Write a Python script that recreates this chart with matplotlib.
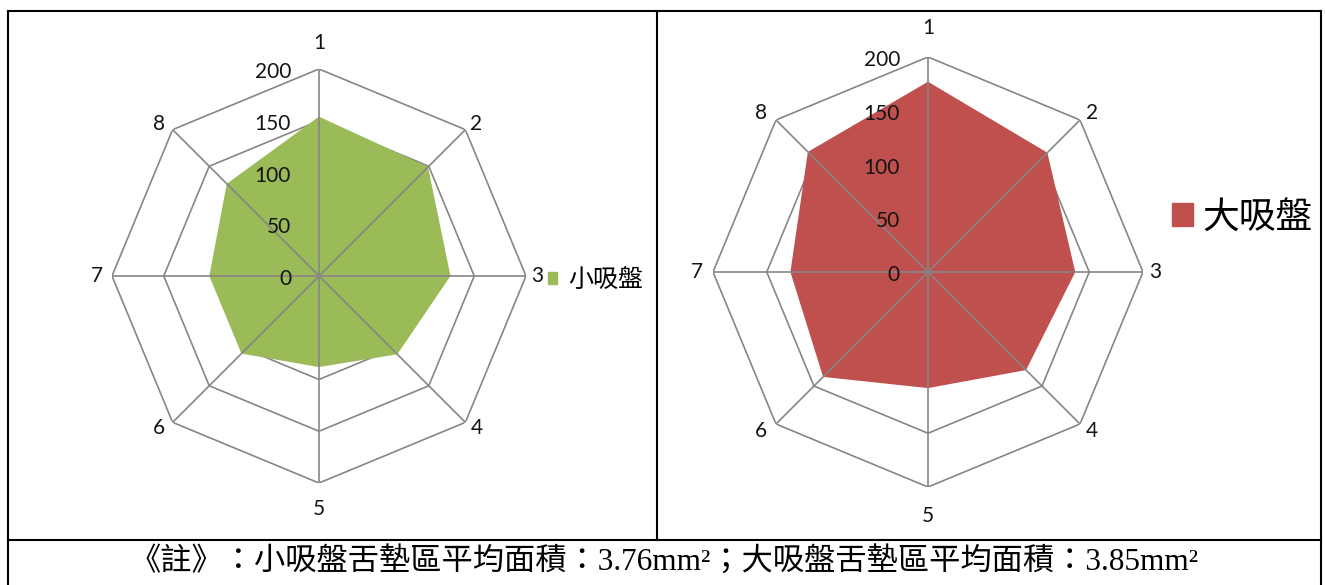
import matplotlib
matplotlib.use("Agg")
import matplotlib.pyplot as plt
import numpy as np
from matplotlib.patches import Patch

categories = ["1", "2", "3", "4", "5", "6", "7", "8"]
small_cup = [154, 149, 127, 107, 88, 106, 106, 126]
large_cup = [177, 157, 137, 129, 108, 138, 128, 158]
rings = [50, 100, 150, 200]
ring_labels = ["0", "50", "100", "150", "200"]
note = "《註》：小吸盤舌墊區平均面積：3.76mm²；大吸盤舌墊區平均面積：3.85mm²"

W, H = 1325, 585
fig = plt.figure(figsize=(W / 100, H / 100), dpi=100)

# page-sized axes in pixel units for the table frame
bg = fig.add_axes([0, 0, 1, 1])
bg.set_xlim(0, W)
bg.set_ylim(H, 0)
bg.axis("off")
frame = dict(color="black", lw=1.5, solid_capstyle="projecting")
bg.plot([8, 1321], [11, 11], **frame)
bg.plot([8, 8], [11, 590], **frame)
bg.plot([1321, 1321], [11, 590], **frame)
bg.plot([657, 657], [11, 540], **frame)
bg.plot([8, 1321], [540, 540], **frame)
bg.text(664, 563, note, ha="center", va="center", fontsize=22.5,
        family=["Liberation Serif", "Noto Sans CJK TC"], color="black")

GRID = "#868686"
TXT = "#141414"
theta = np.arange(len(categories)) * 2 * np.pi / len(categories)
closed = np.append(theta, theta[0])

# (dx, dy) pixel offsets of the category labels from the outer vertices
label_off = [(0, 26), (11, 6), (11, 0), (11, -6), (0, -26), (-14, -6), (-15, 0), (-14, 6)]


def radar(rect, values, color, off_scale):
    ax = fig.add_axes(rect, projection="polar")
    ax.set_theta_zero_location("N")
    ax.set_theta_direction(-1)
    ax.set_ylim(0, 200)
    ax.set_xticks([])
    ax.set_yticks([])
    ax.grid(False)
    ax.spines["polar"].set_visible(False)
    ax.patch.set_alpha(0)

    for r in rings:
        ax.plot(closed, [r] * len(closed), color=GRID, lw=1.2, zorder=1)
    ax.fill(closed, np.append(values, values[0]), color=color, lw=0, zorder=2)
    for t in theta:
        ax.plot([t, t], [0, 200], color=GRID, lw=1.2, zorder=3)

    for lab, r in zip(ring_labels, [0] + rings):
        ax.annotate(lab, xy=(0, r), xytext=(-28, -3), textcoords="offset pixels",
                    ha="right", va="center", fontsize=15, family="Lato",
                    color=TXT, zorder=4)
    for t, lab, (dx, dy) in zip(theta, categories, label_off):
        ax.annotate(lab, xy=(t, 200), xytext=(dx * off_scale, dy * off_scale),
                    textcoords="offset pixels", ha="center", va="center",
                    fontsize=15, family="Lato", color=TXT, zorder=4)
    return ax


def rect_for(cx, cy, rad):
    return [(cx - rad) / W, (H - cy - rad) / H, 2 * rad / W, 2 * rad / H]


left = radar(rect_for(319, 276, 207), small_cup, "#9BBB59", 1.0)
right = radar(rect_for(928, 272, 215), large_cup, "#C0504D", 1.1)

left.legend(handles=[Patch(color="#9BBB59", label="小吸盤")], loc="center left",
            bbox_to_anchor=(548 / W, 1 - 280 / H), bbox_transform=fig.transFigure,
            frameon=False, borderpad=0, borderaxespad=0, handlelength=0.36,
            handleheight=0.36, handletextpad=0.45,
            prop={"family": ["Noto Sans CJK TC"], "size": 18})
right.legend(handles=[Patch(color="#C0504D", label="大吸盤")], loc="center left",
             bbox_to_anchor=(1172 / W, 1 - 217 / H), bbox_transform=fig.transFigure,
             frameon=False, borderpad=0, borderaxespad=0, handlelength=0.58,
             handleheight=0.58, handletextpad=0.25,
             prop={"family": ["Noto Sans CJK TC"], "size": 26.5})

fig.savefig("out.png", dpi=100)
